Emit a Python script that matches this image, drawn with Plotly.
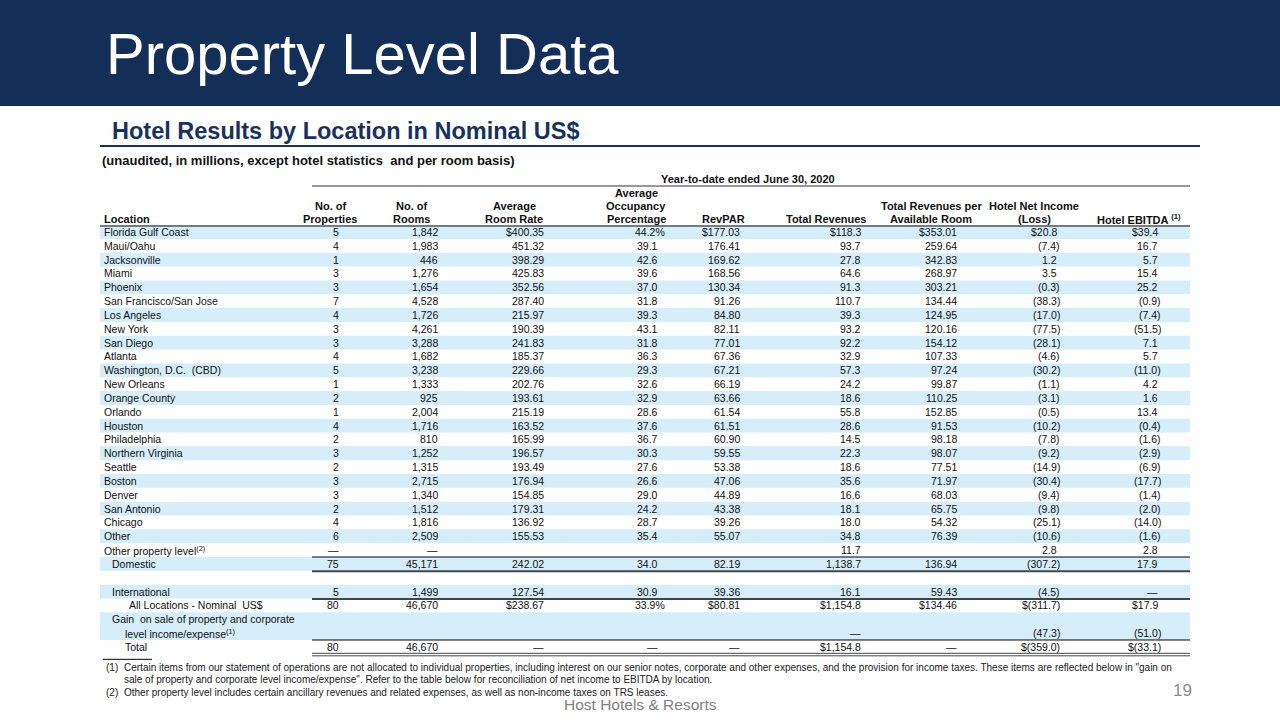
import plotly.graph_objects as go

DASH = "\u2014"

# ---------------- data ----------------
locations = ["Florida Gulf Coast", "Maui/Oahu", "Jacksonville", "Miami", "Phoenix",
             "San Francisco/San Jose", "Los Angeles", "New York", "San Diego", "Atlanta",
             "Washington, D.C.  (CBD)", "New Orleans", "Orange County", "Orlando", "Houston",
             "Philadelphia", "Northern Virginia", "Seattle", "Boston", "Denver",
             "San Antonio", "Chicago", "Other"]
properties = [5, 4, 1, 3, 3, 7, 4, 3, 3, 4, 5, 1, 2, 1, 4, 2, 3, 2, 3, 3, 2, 4, 6]
rooms = [1842, 1983, 446, 1276, 1654, 4528, 1726, 4261, 3288, 1682, 3238, 1333, 925,
         2004, 1716, 810, 1252, 1315, 2715, 1340, 1512, 1816, 2509]
avg_room_rate = [400.35, 451.32, 398.29, 425.83, 352.56, 287.40, 215.97, 190.39, 241.83,
                 185.37, 229.66, 202.76, 193.61, 215.19, 163.52, 165.99, 196.57, 193.49,
                 176.94, 154.85, 179.31, 136.92, 155.53]
occupancy = [44.2, 39.1, 42.6, 39.6, 37.0, 31.8, 39.3, 43.1, 31.8, 36.3, 29.3, 32.6, 32.9,
             28.6, 37.6, 36.7, 30.3, 27.6, 26.6, 29.0, 24.2, 28.7, 35.4]
revpar = [177.03, 176.41, 169.62, 168.56, 130.34, 91.26, 84.80, 82.11, 77.01, 67.36, 67.21,
          66.19, 63.66, 61.54, 61.51, 60.90, 59.55, 53.38, 47.06, 44.89, 43.38, 39.26, 55.07]
total_revenues = [118.3, 93.7, 27.8, 64.6, 91.3, 110.7, 39.3, 93.2, 92.2, 32.9, 57.3, 24.2,
                  18.6, 55.8, 28.6, 14.5, 22.3, 18.6, 35.6, 16.6, 18.1, 18.0, 34.8]
trpar = [353.01, 259.64, 342.83, 268.97, 303.21, 134.44, 124.95, 120.16, 154.12, 107.33,
         97.24, 99.87, 110.25, 152.85, 91.53, 98.18, 98.07, 77.51, 71.97, 68.03, 65.75,
         54.32, 76.39]
net_income = [20.8, -7.4, 1.2, 3.5, -0.3, -38.3, -17.0, -77.5, -28.1, -4.6, -30.2, -1.1,
              -3.1, -0.5, -10.2, -7.8, -9.2, -14.9, -30.4, -9.4, -9.8, -25.1, -10.6]
ebitda = [39.4, 16.7, 5.7, 15.4, 25.2, -0.9, -7.4, -51.5, 7.1, 5.7, -11.0, 4.2, 1.6, 13.4,
          -0.4, -1.6, -2.9, -6.9, -17.7, -1.4, -2.0, -14.0, -1.6]

summary_labels = [["Other property level<sup>(2)</sup>"], ["Domestic"], [""], ["International"],
                  ["All Locations - Nominal  US$"],
                  ["Gain  on sale of property and corporate", "level income/expense<sup>(1)</sup>"],
                  ["Total"]]
summary_properties = [DASH, 75, None, 5, 80, None, 80]
summary_rooms = [DASH, 45171, None, 1499, 46670, None, 46670]
summary_rate = [None, 242.02, None, 127.54, 238.67, None, DASH]
summary_occupancy = [None, 34.0, None, 30.9, 33.9, None, DASH]
summary_revpar = [None, 82.19, None, 39.36, 80.81, None, DASH]
summary_total_revenues = [11.7, 1138.7, None, 16.1, 1154.8, DASH, 1154.8]
summary_trpar = [None, 136.94, None, 59.43, 134.46, None, DASH]
summary_net_income = [2.8, -307.2, None, -4.5, -311.7, -47.3, -359.0]
summary_ebitda = [2.8, 17.9, None, DASH, 17.9, -51.0, -33.1]

headers = [["Location"], ["No. of", "Properties"], ["No. of", "Rooms"], ["Average", "Room Rate"],
           ["Average", "Occupancy", "Percentage"], ["RevPAR"], ["Total Revenues"],
           ["Total Revenues per", "Available Room"], ["Hotel Net Income", "(Loss)"],
           ["Hotel EBITDA <sup>(1)</sup>"]]

footnotes = [
    ("(1)", ["Certain items from our statement of operations are not allocated to individual properties, including interest on our senior notes, corporate and other expenses, and the provision for income taxes. These items are reflected below in \"gain on",
             "sale of property and corporate level income/expense\". Refer to the table below for reconciliation of net income to EBITDA by location."]),
    ("(2)", ["Other property level includes certain ancillary revenues and related expenses, as well as non-income taxes on TRS leases."]),
]

# ---------------- layout / style ----------------
FONT = "Liberation Sans, Arial, sans-serif"
NAVY = "#132E57"
SHADE = "#D5EEF9"
TXT = "#111111"
col_right = [341, 440, 546, 667, 742, 863, 959, 1062, 1163]
col_pad = [0, 0, 0, 7, 0, 0, 0, 3, 3]
col_dec = [0, 0, 2, 1, 2, 1, 2, 1, 1]
col_money = [False, False, True, False, True, True, True, True, True]
header_center = [None, 330, 411, 514, 636, 723, 826, 931, 1034, 1139]
ROW0 = 232.0
ROWH = 13.83
TABLE_L, TABLE_R, RULE_L = 100, 1190, 312

fig = go.Figure()
fig.add_trace(go.Scatter(x=[0], y=[0], mode="markers", marker=dict(opacity=0),
                         hoverinfo="skip", showlegend=False))
shapes, anns = [], []


def ann(x, y, text, xanchor="left", size=10.5, color=TXT, family=FONT, yanchor="middle"):
    if not text:
        return
    anns.append(dict(x=x, y=y, xref="x", yref="y", text=text, showarrow=False,
                     xanchor=xanchor, yanchor=yanchor, align=xanchor,
                     font=dict(family=family, size=size, color=color)))


def hline(y, x0, x1, color="#000000", width=1):
    shapes.append(dict(type="line", xref="x", yref="y", x0=x0, x1=x1, y0=y, y1=y,
                       line=dict(color=color, width=width)))


def fmt(v, col, dollar):
    if v is None:
        return ""
    if v == DASH:
        return DASH
    s = f"{abs(v):,.{col_dec[col]}f}"
    if v < 0:
        s = f"({s})"
    if dollar and col_money[col]:
        s = "$" + s
    if dollar and col == 3:
        s += "%"
    return s


# header banner
shapes.append(dict(type="rect", xref="x", yref="y", x0=0, x1=1280, y0=0, y1=106,
                   fillcolor=NAVY, line=dict(width=0), layer="below"))
ann(104, 53, "Property Level Data", size=58, color="#FFFFFF")
ann(110, 131, "<b>Hotel Results by Location in Nominal US$</b>", size=23.5, color="#17325C")
hline(146, 100, 1200, color="#17325C", width=2)
ann(100, 160, "<b>(unaudited, in millions, except hotel statistics  and per room basis)</b>", size=13, color=TXT)
ann(748, 179, "<b>Year-to-date ended June 30, 2020</b>", xanchor="center", size=11)
hline(186, RULE_L, TABLE_R, color="#333333", width=1)

# column headers
for ci, lines in enumerate(headers):
    n = len(lines)
    for li, t in enumerate(lines):
        y = 219 - (n - 1 - li) * 13
        if ci == 0:
            ann(102, y, f"<b>{t}</b>", size=11)
        else:
            ann(header_center[ci], y, f"<b>{t}</b>", xanchor="center", size=11)
hline(226, TABLE_L, TABLE_R, color="#555555", width=1.5)

# assemble rows
rows = []
for i, name in enumerate(locations):
    vals = [properties[i], rooms[i], avg_room_rate[i], occupancy[i], revpar[i],
            total_revenues[i], trpar[i], net_income[i], ebitda[i]]
    rows.append(dict(label=[name], indent=[0], vals=vals, dollar=(i == 0)))
summary_indent = [[0], [8], [0], [8], [25], [8, 21], [21]]
for j, lab in enumerate(summary_labels):
    vals = [summary_properties[j], summary_rooms[j], summary_rate[j], summary_occupancy[j],
            summary_revpar[j], summary_total_revenues[j], summary_trpar[j],
            summary_net_income[j], summary_ebitda[j]]
    rows.append(dict(label=lab, indent=summary_indent[j], vals=vals, dollar=(j in (4, 6))))

line_idx = 0
row_bottoms = []
for r_i, r in enumerate(rows):
    n = len(r["label"])
    top = ROW0 - ROWH / 2 + line_idx * ROWH
    bottom = top + n * ROWH
    if r_i % 2 == 0 and r["label"][0] != "":
        shapes.append(dict(type="rect", xref="x", yref="y", x0=TABLE_L, x1=TABLE_R,
                           y0=top, y1=bottom, fillcolor=SHADE, line=dict(width=0), layer="below"))
    for li, t in enumerate(r["label"]):
        ann(102 + r["indent"][li], ROW0 + (line_idx + li) * ROWH, t)
    yv = ROW0 + (line_idx + n - 1) * ROWH
    for c, v in enumerate(r["vals"]):
        s = fmt(v, c, r["dollar"])
        if not s:
            continue
        x = col_right[c] if (s.endswith(")") or s.endswith("%")) else col_right[c] - col_pad[c]
        ann(x, yv, s, xanchor="right")
    row_bottoms.append(bottom)
    line_idx += n

# rules in summary block
nloc = len(locations)
hline(row_bottoms[nloc], RULE_L, TABLE_R, width=1)            # above Domestic
hline(row_bottoms[nloc + 1] + 0.5, RULE_L, TABLE_R, color="#444444", width=2)  # below Domestic
hline(row_bottoms[nloc + 3] + 0.5, RULE_L, TABLE_R, color="#444444", width=2)  # below International
hline(row_bottoms[nloc + 5], RULE_L, TABLE_R, width=1)         # above Total
hline(row_bottoms[nloc + 6] - 0.5, RULE_L, TABLE_R, color="#444444", width=1)  # double under Total
hline(row_bottoms[nloc + 6] + 2.0, RULE_L, TABLE_R, color="#444444", width=1)
hline(row_bottoms[nloc + 6] + 5.5, 103, 152, width=1)          # footnote separator

# footnotes
fy = 667
for num, lines in footnotes:
    ann(104, fy, num, size=10, color="#222222")
    for t in lines:
        ann(122, fy, t, size=10, color="#222222")
        fy += 12.5

ann(1182, 690, "19", xanchor="center", size=17, color="#8C8C8C")
ann(640, 704, "Host Hotels &amp; Resorts", xanchor="center", size=15.5, color="#808080")

fig.update_layout(
    width=1280, height=720, margin=dict(l=0, r=0, t=0, b=0),
    paper_bgcolor="white", plot_bgcolor="white",
    xaxis=dict(range=[0, 1280], visible=False, fixedrange=True),
    yaxis=dict(range=[720, 0], visible=False, fixedrange=True),
    shapes=shapes, annotations=anns, showlegend=False,
)
fig.write_html("out.html", config={"displayModeBar": False},
               post_script="document.body.style.margin='0';document.body.style.overflow='hidden';")
